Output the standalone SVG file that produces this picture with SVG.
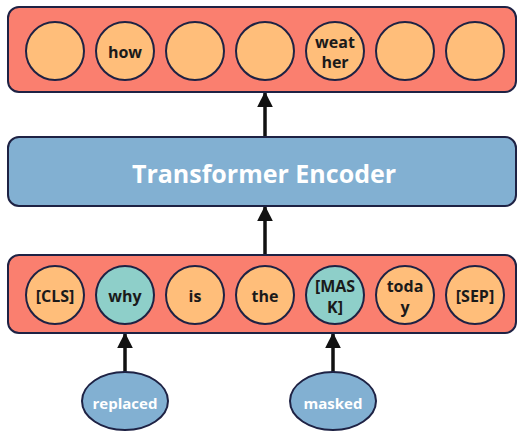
<svg xmlns="http://www.w3.org/2000/svg" width="517" height="433" viewBox="0 0 517 433">
<defs>
<style>
.bar{fill:#FA7F6F;stroke:#1E2244;stroke-width:2}
.enc{fill:#82B0D2;stroke:#1E2244;stroke-width:2}
.tok{fill:#FFBE7A;stroke:#1E2244;stroke-width:2}
.sel{fill:#8ECFC9;stroke:#1E2244;stroke-width:2}
.ell{fill:#82B0D2;stroke:#1E2244;stroke-width:2}
.t{font-family:"Open Sans","Noto Sans","DejaVu Sans",sans-serif;font-weight:bold;font-size:16px;fill:#1a1a1a;text-anchor:middle;dominant-baseline:central}
.w{font-family:"Open Sans","Noto Sans","DejaVu Sans",sans-serif;font-weight:bold;fill:#ffffff;text-anchor:middle;dominant-baseline:central}
.arr{stroke:#111;stroke-width:3.5;fill:none;marker-end:url(#ah)}
</style>
<marker id="ah" viewBox="0 0 10 10" refX="9" refY="5" markerWidth="4.6" markerHeight="4.6" orient="auto" markerUnits="strokeWidth">
<path d="M0,0 L10,5 L0,10 z" fill="#111"/>
</marker>
</defs>
<g id="connectors">
<line class="arr" x1="265" y1="137" x2="265" y2="93"/>
<line class="arr" x1="265" y1="255" x2="265" y2="207"/>
<line class="arr" x1="125" y1="372" x2="125" y2="334"/>
<line class="arr" x1="333" y1="372" x2="333" y2="334"/>
</g>
<g id="output-layer">
<rect class="bar" x="8" y="7" width="508" height="85" rx="11"/>
<circle class="tok" cx="55" cy="51" r="29"/>
<circle class="tok" cx="125" cy="51" r="29"/>
<text class="t" x="125" y="52">how</text>
<circle class="tok" cx="195" cy="51" r="29"/>
<circle class="tok" cx="265" cy="51" r="29"/>
<circle class="tok" cx="335" cy="51" r="29"/>
<text class="t" x="335" y="42">weat</text>
<text class="t" x="335" y="62">her</text>
<circle class="tok" cx="405" cy="51" r="29"/>
<circle class="tok" cx="475" cy="51" r="29"/>
</g>
<g id="encoder">
<rect class="enc" x="8" y="137" width="508" height="69" rx="11"/>
<text class="w" x="264" y="173" font-size="25">Transformer Encoder</text>
</g>
<g id="input-layer">
<rect class="bar" x="8" y="255" width="508" height="78" rx="11"/>
<circle class="tok" cx="55" cy="295" r="29"/>
<text class="t" x="55" y="296">[CLS]</text>
<circle class="sel" cx="125" cy="295" r="29"/>
<text class="t" x="125" y="296">why</text>
<circle class="tok" cx="195" cy="295" r="29"/>
<text class="t" x="195" y="296">is</text>
<circle class="tok" cx="265" cy="295" r="29"/>
<text class="t" x="265" y="296">the</text>
<circle class="sel" cx="335" cy="295" r="29"/>
<text class="t" x="335" y="286">[MAS</text>
<text class="t" x="335" y="307">K]</text>
<circle class="tok" cx="405" cy="295" r="29"/>
<text class="t" x="405" y="286">toda</text>
<text class="t" x="405" y="307">y</text>
<circle class="tok" cx="475" cy="295" r="29"/>
<text class="t" x="475" y="296">[SEP]</text>
</g>
<g id="replaced">
<ellipse class="ell" cx="125" cy="401" rx="43" ry="29"/>
<text class="w" x="125" y="403" font-size="15">replaced</text>
</g>
<g id="masked">
<ellipse class="ell" cx="333" cy="401" rx="43" ry="29"/>
<text class="w" x="333" y="403" font-size="15">masked</text>
</g>
</svg>
